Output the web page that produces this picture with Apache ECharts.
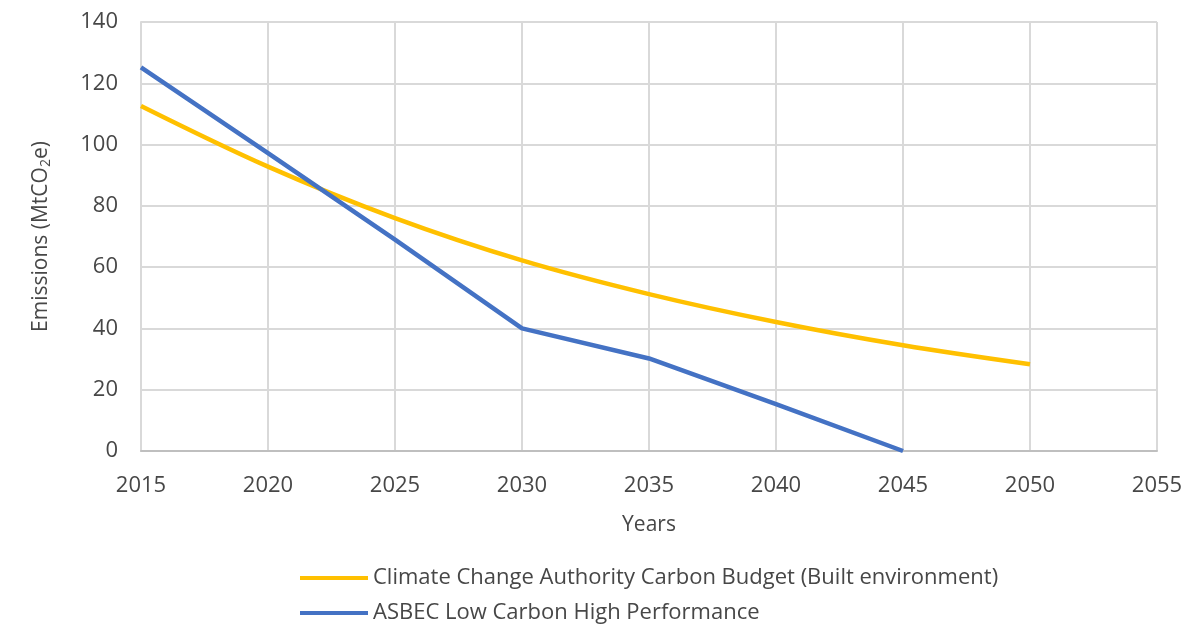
<!DOCTYPE html>
<html>
<head>
<meta charset="utf-8">
<script src="https://cdn.jsdelivr.net/npm/echarts@6/dist/echarts.min.js"></script>
<style>
  html, body { margin: 0; padding: 0; background: #fff; }
  #chart { width: 1195px; height: 626px; }
</style>
</head>
<body>
<div id="chart"></div>
<script>
// Emission pathways for the built environment (MtCO2e)
const years = [2015, 2020, 2025, 2030, 2035, 2040, 2045, 2050];
const ccaBudget = [112.6, 92.8, 76.0, 62.2, 51.2, 42.1, 34.5, 28.3];
const asbecYears = [2015, 2020, 2025, 2030, 2035, 2040, 2045];
const asbecLowCarbon = [125.2, 97.2, 69, 40, 30.2, 15.3, 0];
const seriesNames = [
  'Climate Change Authority Carbon Budget (Built environment)',
  'ASBEC Low Carbon High Performance'
];

const textColor = '#474747';
const font = 'Open Sans';

const chart = echarts.init(document.getElementById('chart'));
chart.setOption({
  backgroundColor: '#fff',
  animation: false,
  grid: { left: 141, right: 38, top: 22, bottom: 175 },
  xAxis: {
    type: 'value',
    min: 2015, max: 2055, interval: 5,
    name: 'Years',
    nameLocation: 'middle',
    nameGap: 64,
    nameTextStyle: { color: textColor, fontFamily: font, fontSize: 21 },
    axisLine: { show: true, lineStyle: { color: '#BFBFBF', width: 2 } },
    axisTick: { show: false },
    axisLabel: {
      color: textColor, fontFamily: font, fontSize: 22, margin: 24,
      formatter: v => String(v)
    },
    splitLine: { show: true, lineStyle: { color: '#D9D9D9', width: 2 } }
  },
  yAxis: {
    type: 'value',
    min: 0, max: 140, interval: 20,
    name: '{a|Emissions (MtCO}{s|2}{a|e)}',
    nameLocation: 'middle',
    nameGap: 88,
    nameTextStyle: {
      color: textColor, fontFamily: font, fontSize: 21,
      rich: {
        a: { color: textColor, fontFamily: font, fontSize: 21 },
        s: { color: textColor, fontFamily: font, fontSize: 14, padding: [10, 0, 0, 0] }
      }
    },
    axisLine: { show: true, lineStyle: { color: '#D9D9D9', width: 2 } },
    axisTick: { show: false },
    axisLabel: { color: textColor, fontFamily: font, fontSize: 22, margin: 23 },
    splitLine: { show: true, lineStyle: { color: '#D9D9D9', width: 2 } }
  },
  legend: {
    orient: 'vertical',
    left: 300,
    top: 567,
    height: 59,
    padding: 0,
    itemGap: 13,
    itemWidth: 68,
    itemHeight: 4,
    icon: 'rect',
    textStyle: { color: textColor, fontFamily: font, fontSize: 22 },
    data: seriesNames
  },
  series: [
    {
      name: seriesNames[0],
      type: 'line',
      smooth: 0.35,
      showSymbol: false,
      symbol: 'none',
      color: '#FFC000',
      lineStyle: { color: '#FFC000', width: 4.5 },
      data: years.map((y, i) => [y, ccaBudget[i]])
    },
    {
      name: seriesNames[1],
      type: 'line',
      showSymbol: false,
      symbol: 'none',
      color: '#4472C4',
      lineStyle: { color: '#4472C4', width: 4.5 },
      data: asbecYears.map((y, i) => [y, asbecLowCarbon[i]])
    }
  ]
});
</script>
</body>
</html>
